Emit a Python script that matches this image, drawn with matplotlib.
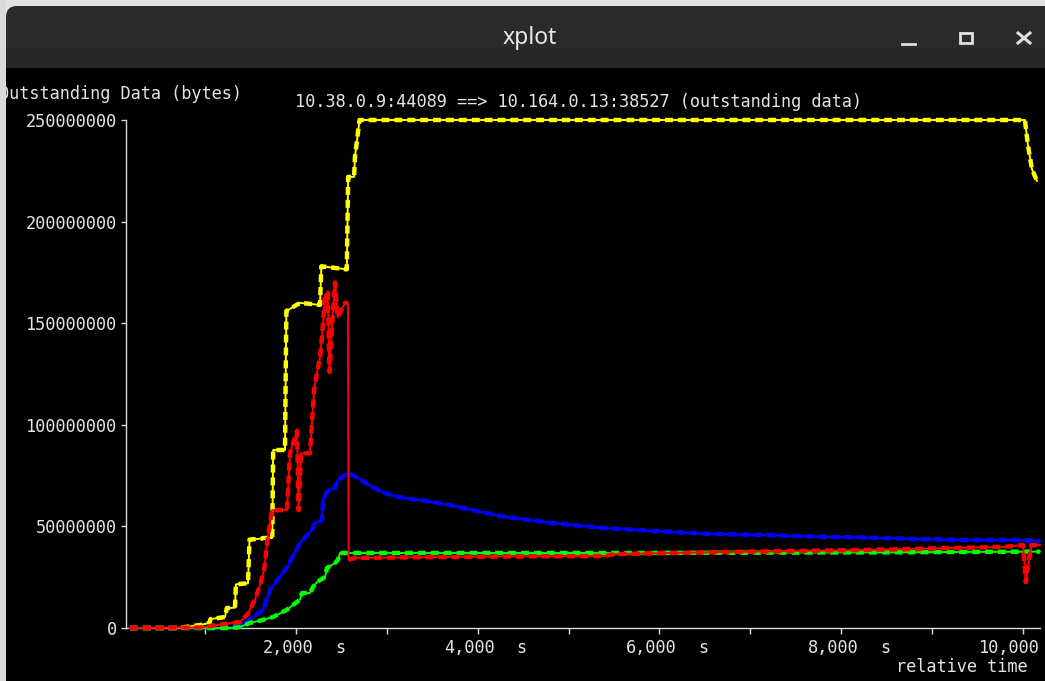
import matplotlib.pyplot as plt
from matplotlib.patches import Rectangle, FancyBboxPatch
from matplotlib.lines import Line2D

W, H = 1045, 681

# outstanding data traces (time in s, values in MB)
yellow_t = [175, 700, 800, 950, 1050, 1060, 1220, 1240, 1330, 1340, 1473, 1490, 1627, 1640,
            1740, 1750, 1880, 1895, 2045, 2265, 2280, 2560, 2575, 2640, 2650, 2700,
            10020, 10053, 10097, 10152]
yellow_v = [0, 0, 0.6, 1.5, 2.5, 4.4, 5.4, 9.8, 10, 21.5, 22, 43.5, 44, 44.3,
            44.3, 87.6, 87.6, 156, 160, 159, 178, 176.5, 222, 222, 232, 250,
            250, 237.7, 225.9, 220]

red_t = [175, 950, 1055, 1385, 1473, 1550, 1605, 1650, 1693, 1737, 1902, 1935, 2012, 2030,
         2056, 2155, 2200, 2230, 2265, 2290, 2320, 2350, 2370, 2400, 2430, 2460, 2540,
         2573, 2580, 2650, 4245, 5389, 5510, 6731, 8260, 9778, 10000, 10030, 10060,
         10090, 10185]
red_v = [0, 0.3, 1, 3, 7, 14, 21, 28.5, 45, 58, 58, 86, 97, 58,
         86, 86, 117, 125, 133, 145, 164, 165, 126, 150, 170, 153, 160,
         160, 33.5, 34.5, 35.2, 35.4, 36.4, 37.4, 38.4, 39.9, 40.8, 22.6, 32,
         40.8, 40.8]

blue_t = [175, 1200, 1330, 1462, 1638, 1715, 1902, 2045, 2177, 2210, 2287, 2298, 2353,
          2430, 2463, 2573, 2683, 2837, 2980, 3123, 3255, 3365, 3695, 4245, 4817,
          5389, 5961, 6544, 7116, 7688, 8260, 8832, 9404, 9976, 10185]
blue_v = [0, 0, 0.5, 3, 9, 18.7, 30, 41.8, 48.2, 51.7, 53.1, 63, 67.9,
          68.9, 72.8, 76.3, 73.8, 69.4, 66.4, 64.5, 63.5, 63, 60.5, 55.1, 51.7,
          49.2, 47.7, 46.3, 45.8, 45, 44.5, 43.8, 43.3, 43.3, 42.8]

green_t = [175, 1300, 1385, 1495, 1638, 1748, 1902, 2045, 2067, 2155, 2188, 2232, 2320,
           2342, 2430, 2463, 2485, 5389, 8260, 10185]
green_v = [0, 0, 0.5, 2.5, 4, 5.4, 9, 14, 17.2, 17.2, 20.2, 22.6, 25.1,
           29.5, 32, 33.5, 36.9, 36.9, 37.2, 37.6]

yticks = [0, 50000000, 100000000, 150000000, 200000000, 250000000]
xmajor = [2000, 4000, 6000, 8000, 10000]
xminor = [1000, 3000, 5000, 7000, 9000]
xlabels = ['2,000', '4,000', '6,000', '8,000', '10,000']

mono = 'DejaVu Sans Mono'
fg = '#e4e4e4'


def fx(x):
    return x / W


def fy(y):
    return 1 - y / H


fig = plt.figure(figsize=(W / 100, H / 100), dpi=100)
fig.patch.set_facecolor('#e2e2e2')

# window body and title bar
fig.add_artist(Rectangle((fx(6), 0), 1, fy(30), transform=fig.transFigure,
                         facecolor='black', edgecolor='none', zorder=0))
fig.add_artist(FancyBboxPatch((0.06, (H - 68) / 100), 11, 0.62,
                              boxstyle='round,pad=0,rounding_size=0.11',
                              transform=fig.dpi_scale_trans,
                              facecolor='#2a2a2a', edgecolor='none', zorder=1))
fig.add_artist(Rectangle((fx(6), fy(68)), 1, 20 / H, transform=fig.transFigure,
                         facecolor='#262626', edgecolor='none', zorder=1))
fig.text(fx(530), fy(38), 'xplot', ha='center', va='center', color='#e8e8e8',
         fontsize=16.5, family='Noto Sans')
fig.add_artist(Line2D([fx(902), fx(915)], [fy(44), fy(44)], transform=fig.transFigure,
                      color='#e0e0e0', lw=2))
fig.add_artist(Rectangle((fx(960), fy(43)), 12 / W, 10 / H, transform=fig.transFigure,
                         facecolor='none', edgecolor='#e0e0e0', lw=2, zorder=3))
fig.add_artist(Line2D([fx(1018), fx(1030)], [fy(33), fy(43)], transform=fig.transFigure,
                      color='#e0e0e0', lw=2.2))
fig.add_artist(Line2D([fx(1018), fx(1030)], [fy(43), fy(33)], transform=fig.transFigure,
                      color='#e0e0e0', lw=2.2))

ax = fig.add_axes([fx(126), fy(628), fx(1040) - fx(126), fy(120) - fy(628)])
ax.set_facecolor('none')
ax.set_xlim(131, 10186)
ax.set_ylim(0, 250000000)


def trace(t, v, c, lw=1.4):
    vals = [x * 1e6 for x in v]
    ax.plot(t, vals, color=c, lw=lw, clip_on=False, zorder=3)
    return vals


def ticks(t, vals, c):
    ax.plot(t, vals, color=c, lw=3.2, dashes=(1.8, 1.1), clip_on=False, zorder=3)


bv = trace(blue_t, blue_v, '#0000ff', lw=1.8)
ticks(blue_t, bv, '#0000ff')
gv = trace(green_t, green_v, '#00ff00')
ticks(green_t, gv, '#00ff00')
yv = trace(yellow_t, yellow_v, '#ffff00')
ticks(yellow_t, yv, '#ffff00')
rv = trace(red_t, red_v, '#ff0000')
# the drop after the retransmission is drawn as a thin line only
ticks(red_t[:28], rv[:28], '#ff0000')
ticks(red_t[28:], rv[28:], '#ff0000')

for s in ['top', 'right']:
    ax.spines[s].set_visible(False)
for s in ['left', 'bottom']:
    ax.spines[s].set_color('#d8d8d8')
    ax.spines[s].set_linewidth(1)

ax.set_yticks(yticks)
ax.set_yticklabels([str(v) for v in yticks])
ax.set_xticks(xmajor)
ax.set_xticklabels([''] * len(xmajor))
ax.set_xticks(xminor, minor=True)
ax.tick_params(axis='both', which='both', direction='out', color='#d8d8d8',
               width=1, labelcolor=fg)
ax.tick_params(axis='y', length=3.5, pad=3, labelsize=12.2)
ax.tick_params(axis='x', which='both', length=4.3)
for lab in ax.get_yticklabels():
    lab.set_family(mono)

for t, lab in zip(xmajor, xlabels):
    ax.annotate(lab, xy=(t, 0), xycoords=('data', 'axes fraction'), xytext=(17, -20),
                textcoords='offset pixels', ha='right', va='center', color=fg,
                fontsize=12.2, family=mono, annotation_clip=False)
    if t < xmajor[-1]:
        ax.annotate('s', xy=(t, 0), xycoords=('data', 'axes fraction'), xytext=(39, -20),
                    textcoords='offset pixels', ha='left', va='center', color=fg,
                    fontsize=12.2, family=mono, annotation_clip=False)

fig.text(fx(1028), fy(667), 'relative time', ha='right', va='center', color=fg,
         fontsize=12.2, family=mono)
fig.text(fx(295), fy(102), '10.38.0.9:44089 ==> 10.164.0.13:38527 (outstanding data)',
         ha='left', va='center', color=fg, fontsize=12.2, family=mono)
fig.text(fx(-1), fy(94), 'Outstanding Data (bytes)', ha='left', va='center', color=fg,
         fontsize=12.2, family=mono)

# left window frame
fig.add_artist(Rectangle((0, 0), fx(6), 1, transform=fig.transFigure,
                         facecolor='#dadada', edgecolor='none', zorder=5))

fig.savefig('out.png', dpi=100, facecolor=fig.get_facecolor())
